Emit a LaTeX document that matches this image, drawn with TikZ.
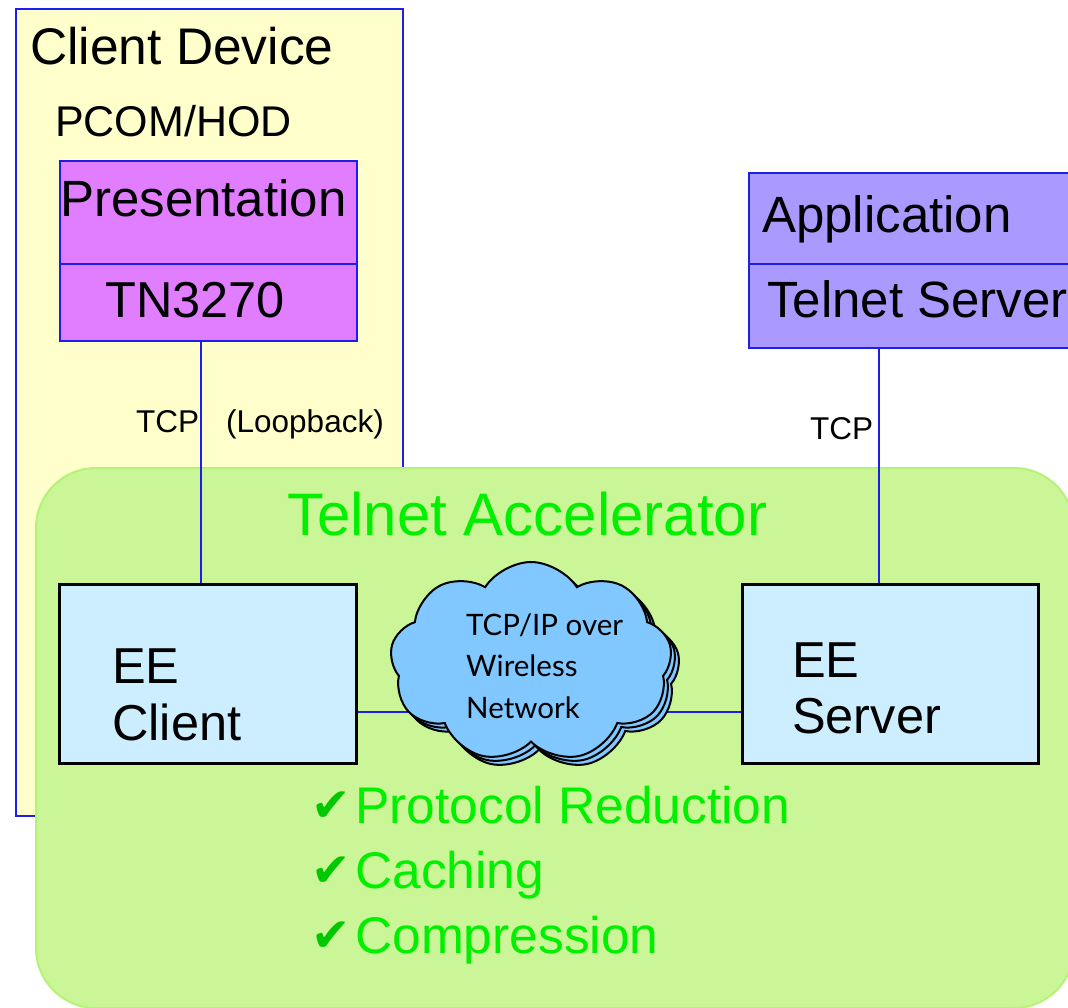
\documentclass[tikz,border=0pt]{standalone}
\usepackage{fontspec}
\setmainfont{Liberation Sans}
\newfontfamily\cloudfont{Lato}
\newfontfamily\symfont{DejaVu Sans}
\usetikzlibrary{shapes.symbols}
\definecolor{devyellow}{RGB}{255,255,204}
\definecolor{lineblue}{RGB}{30,30,235}
\definecolor{presfill}{RGB}{224,126,255}
\definecolor{appfill}{RGB}{170,153,255}
\definecolor{accfill}{RGB}{202,246,152}
\definecolor{accborder}{RGB}{182,242,120}
\definecolor{eefill}{RGB}{204,238,255}
\definecolor{cloudfill}{RGB}{128,200,255}
\definecolor{acctext}{RGB}{0,240,0}
\definecolor{checkgreen}{RGB}{0,200,0}
\begin{document}
\begin{tikzpicture}[x=1pt,y=-1pt,
  box/.style={draw=lineblue, line width=2pt, inner sep=0pt, anchor=north west},
  eebox/.style={draw=black, line width=2.5pt, fill=eefill, inner sep=0pt, anchor=north west, minimum height=179pt},
  txt/.style={inner sep=0pt, anchor=base west},
  big/.style={font=\fontsize{50.5}{57}\selectfont},
  small/.style={font=\fontsize{31.5}{36}\selectfont},
  conn/.style={draw=lineblue, line width=2pt},
  cloudshape/.style={cloud, cloud puffs=9, cloud puff arc=115, draw=black, line width=2pt, fill=cloudfill,
    minimum width=282pt, minimum height=200pt, aspect=1.4, inner sep=0pt},
  checkitem/.style={txt, font=\fontsize{51.5}{57}\selectfont, text=acctext},
  checkmark/.style={txt, font=\symfont\fontsize{47}{52}\selectfont, text=checkgreen}
]
\useasboundingbox (0,0) rectangle (1068,1008);
\fill[white] (0,0) rectangle (1068,1008);

% Client device
\node[box, fill=devyellow, minimum width=387pt, minimum height=807pt] (dev) at (15,8) {};
\node[txt, font=\fontsize{51.5}{57}\selectfont] (devlbl) at (30,65) {Client Device};
\node[txt, font=\fontsize{43}{50}\selectfont] (pcom) at (55,137) {PCOM/HOD};
\node[box, fill=presfill, minimum width=297pt, minimum height=103pt] (pres) at (59,160) {};
\node[box, fill=presfill, minimum width=297pt, minimum height=77pt] (tn) at (59,263) {};
\node[txt, font=\fontsize{51}{57}\selectfont] (preslbl) at (60,217) {Presentation};
\node[txt, big] (tnlbl) at (105,317) {TN3270};
\node[txt, small] (tcpl) at (136,432) {TCP};
\node[txt, small] (loop) at (226,432) {(Loopback)};

% Host side
\node[box, fill=appfill, minimum width=340pt, minimum height=91pt] (app) at (748,172) {};
\node[box, fill=appfill, minimum width=340pt, minimum height=84pt] (tsrv) at (748,263) {};
\node[txt, font=\fontsize{51}{57}\selectfont] (applbl) at (762,233) {Application};
\node[txt, font=\fontsize{51}{57}\selectfont] (tsrvlbl) at (767,317) {Telnet Server};
\node[txt, small] (tcpr) at (810,439) {TCP};

% Accelerator region
\node[draw=accborder, fill=accfill, line width=2pt, rounded corners=60pt,
      minimum width=1038pt, minimum height=540pt, inner sep=0pt, anchor=north west] (acc) at (35,467) {};
\node[txt, font=\fontsize{60}{66}\selectfont, text=acctext] (acclbl) at (287,535) {Telnet Accelerator};

% EE boxes
\node[eebox, minimum width=297pt] (eec) at (58,583) {};
\node[eebox, minimum width=296pt] (eesrv) at (741,583) {};

% connectors
\draw[conn] ([xshift=-7.5pt]tn.south) -- ([xshift=-7.5pt]tn.south |- eec.north);
\draw[conn] ([xshift=-40pt]tsrv.south) -- ([xshift=-40pt]tsrv.south |- eesrv.north);
\draw[conn] ([yshift=-38.5pt]eec.east) -- ([yshift=-38.5pt]eec.east -| eesrv.west);

% cloud (stacked outlines)
\node[cloudshape] (cloudb) at (539,670) {};
\node[cloudshape] (cloudm) at (535,666) {};
\node[cloudshape] (cloud) at (531,662) {};
\node[txt, align=left, font=\cloudfont\fontsize{29.5}{41.5}\selectfont] (cloudlbl) at (466,718) {TCP/IP over\\Wireless\\Network};

\node[txt, align=left, font=\fontsize{50.5}{57}\selectfont] (eeclbl) at (112,740) {EE\\Client};
\node[txt, align=left, font=\fontsize{50.5}{56}\selectfont] (eesrvlbl) at (792,733) {EE\\Server};

% checklist
\node[checkmark] (ck1) at (311,821) {✔};
\node[checkitem] (it1) at (355,823) {Protocol Reduction};
\node[checkmark] (ck2) at (311,886) {✔};
\node[checkitem] (it2) at (355,888) {Caching};
\node[checkmark] (ck3) at (311,951) {✔};
\node[checkitem] (it3) at (355,953) {Compression};
\end{tikzpicture}
\end{document}
